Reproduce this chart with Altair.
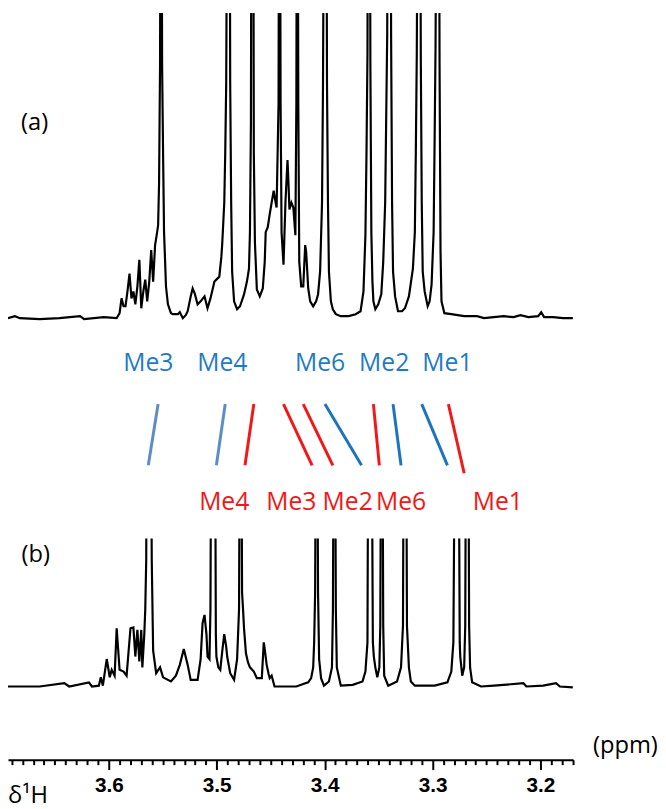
import altair as alt
import pandas as pd

# ---- spectrum (a): chemical shift (ppm) and intensity (arbitrary units) ----
A_PPM = [3.6934, 3.6870, 3.6824, 3.6641, 3.6458, 3.6266, 3.6229, 3.6046, 3.5927,
         3.5900, 3.5882, 3.5863, 3.5845, 3.5827, 3.5808, 3.5790, 3.5772, 3.5754, 3.5735,
         3.5717, 3.5699, 3.5680, 3.5662, 3.5644, 3.5625, 3.5607, 3.5589, 3.5571, 3.5552,
         3.5543, 3.5534, 3.5525, 3.5516, 3.5506, 3.5497, 3.5488, 3.5479, 3.5470, 3.5452,
         3.5424, 3.5406, 3.5360, 3.5342, 3.5314, 3.5287, 3.5269, 3.5241, 3.5223, 3.5204,
         3.5177, 3.5149, 3.5113, 3.5085, 3.5058, 3.5021, 3.4994, 3.4976, 3.4957, 3.4948,
         3.4930, 3.4921, 3.4912, 3.4893, 3.4884, 3.4875, 3.4866, 3.4857, 3.4839, 3.4811,
         3.4784, 3.4747, 3.4720, 3.4701, 3.4692, 3.4683, 3.4674, 3.4665, 3.4656, 3.4646,
         3.4628, 3.4601, 3.4573, 3.4555, 3.4546, 3.4527, 3.4509, 3.4491, 3.4472, 3.4454,
         3.4445, 3.4427, 3.4418, 3.4408, 3.4399, 3.4381, 3.4363, 3.4344, 3.4335, 3.4326,
         3.4308, 3.4290, 3.4271, 3.4262, 3.4253, 3.4244, 3.4235, 3.4217, 3.4198, 3.4180,
         3.4171, 3.4152, 3.4134, 3.4106, 3.4079, 3.4061, 3.4042, 3.4024, 3.4015, 3.3997,
         3.3988, 3.3978, 3.3969, 3.3960, 3.3942, 3.3924, 3.3896, 3.3850, 3.3777, 3.3713,
         3.3667, 3.3640, 3.3622, 3.3612, 3.3603, 3.3594, 3.3585, 3.3576, 3.3567, 3.3557,
         3.3548, 3.3530, 3.3503, 3.3475, 3.3457, 3.3439, 3.3430, 3.3420, 3.3411, 3.3393,
         3.3384, 3.3375, 3.3366, 3.3347, 3.3320, 3.3283, 3.3256, 3.3219, 3.3182, 3.3164,
         3.3155, 3.3146, 3.3127, 3.3118, 3.3109, 3.3100, 3.3091, 3.3073, 3.3045, 3.3027,
         3.3009, 3.2990, 3.2981, 3.2972, 3.2954, 3.2945, 3.2935, 3.2926, 3.2917, 3.2890,
         3.2826, 3.2707, 3.2588, 3.2523, 3.2432, 3.2340, 3.2249, 3.2185, 3.2112, 3.2021,
         3.1993, 3.1966, 3.1883, 3.1791, 3.1700]
A_INT = [0, 2, 0, -1, 0, 2, -1, 1, 0,
         5, 20, 12, 12, 27, 45, 20, 27, 14, 32,
         59, 10, 27, 39, 17, 37, 69, 37, 74, 87,
         94, 137, 257, 700, 257, 167, 87, 60, 32, 14,
         5, 4, 4, 6, 0, 3, 7, 22, 30, 25,
         14, 17, 22, 10, 20, 37, 40, 42, 62, 77,
         117, 167, 237, 700, 700, 237, 117, 47, 17, 9,
         12, 24, 37, 50, 87, 197, 700, 700, 167, 77,
         29, 22, 30, 57, 87, 92, 105, 117, 129, 117,
         112, 217, 700, 217, 87, 54, 117, 160, 137, 110,
         117, 112, 84, 217, 700, 217, 57, 32, 32, 74,
         67, 30, 17, 12, 17, 24, 47, 117, 237, 700,
         700, 237, 117, 47, 17, 9, 4, 2, 2, 4,
         7, 27, 84, 167, 267, 700, 700, 257, 87, 37,
         17, 9, 14, 24, 57, 117, 197, 287, 700, 700,
         287, 117, 47, 22, 7, 7, 10, 22, 50, 87,
         167, 267, 700, 700, 267, 117, 47, 27, 12, 17,
         34, 87, 177, 277, 700, 700, 257, 67, 17, 5,
         4, 2, 2, 0, 1, 2, 1, 3, 1, 2,
         6, 1, 1, 0, 0]

# ---- spectrum (b) ----
B_PPM = [3.6934, 3.6641, 3.6412, 3.6367, 3.6184, 3.6156, 3.6092, 3.6074, 3.6055, 3.6019,
         3.5991, 3.5973, 3.5946, 3.5927, 3.5900, 3.5863, 3.5835, 3.5799, 3.5772, 3.5754,
         3.5735, 3.5717, 3.5699, 3.5689, 3.5671, 3.5662, 3.5653, 3.5648, 3.5612, 3.5602,
         3.5589, 3.5561, 3.5525, 3.5497, 3.5424, 3.5378, 3.5342, 3.5305, 3.5269, 3.5241,
         3.5177, 3.5149, 3.5131, 3.5113, 3.5095, 3.5085, 3.5067, 3.5058, 3.5049, 3.5017,
         3.5008, 3.5003, 3.4985, 3.4967, 3.4948, 3.4930, 3.4912, 3.4903, 3.4875, 3.4839,
         3.4811, 3.4793, 3.4784, 3.4774, 3.4765, 3.4756, 3.4747, 3.4729, 3.4710, 3.4692,
         3.4656, 3.4628, 3.4582, 3.4564, 3.4555, 3.4537, 3.4519, 3.4509, 3.4491, 3.4464,
         3.4381, 3.4262, 3.4198, 3.4152, 3.4125, 3.4106, 3.4097, 3.4088, 3.4079, 3.4070,
         3.4061, 3.4051, 3.4033, 3.4006, 3.3960, 3.3932, 3.3923, 3.3914, 3.3905, 3.3896,
         3.3887, 3.3850, 3.3740, 3.3649, 3.3622, 3.3603, 3.3594, 3.3567, 3.3553, 3.3544,
         3.3530, 3.3512, 3.3493, 3.3484, 3.3475, 3.3466, 3.3457, 3.3448, 3.3411, 3.3329,
         3.3292, 3.3274, 3.3265, 3.3246, 3.3237, 3.3219, 3.3201, 3.3164, 3.2981, 3.2862,
         3.2826, 3.2807, 3.2789, 3.2761, 3.2748, 3.2743, 3.2725, 3.2707, 3.2697, 3.2688,
         3.2670, 3.2661, 3.2652, 3.2633, 3.2551, 3.2432, 3.2158, 3.2130, 3.1975, 3.1856,
         3.1820, 3.1700]
B_INT = [0, 0, 4, 0, 5, 0, 1, 11, 1, 33,
         11, 20, 13, 70, 20, 18, 13, 70, 71, 36,
         68, 30, 68, 23, 63, 93, 153, 400, 400, 153,
         43, 16, 23, 11, 6, 13, 26, 45, 26, 8,
         8, 33, 76, 86, 63, 36, 33, 93, 400, 400,
         63, 36, 23, 20, 43, 63, 48, 36, 16, 8,
         33, 93, 400, 400, 113, 93, 70, 40, 29, 23,
         18, 10, 10, 53, 45, 26, 15, 10, 13, 0,
         0, 0, 3, 5, 10, 23, 53, 113, 400, 400,
         113, 33, 10, 1, 6, 23, 93, 400, 400, 93,
         23, 1, 2, 6, 18, 53, 400, 400, 53, 36,
         23, 11, 23, 73, 400, 400, 73, 13, 1, 6,
         23, 73, 400, 400, 73, 23, 6, 1, 1, 5,
         18, 53, 400, 400, 53, 36, 13, 23, 73, 400,
         400, 73, 23, 5, 0, 1, 4, 0, 1, 4,
         0, -1]

# ---- assignments ----
BLUE_NAMES = ["Me3", "Me4", "Me6", "Me2", "Me1"]
BLUE_LABEL_PPM = [3.5634, 3.4948, 3.4042, 3.3448, 3.2862]
BLUE_TOP_PPM = [3.5543, 3.4921, 3.3997, 3.3366, 3.3100]
BLUE_BOT_PPM = [3.5634, 3.5003, 3.3658, 3.3292, 3.2862]

RED_NAMES = ["Me4", "Me3", "Me2", "Me6", "Me1"]
RED_LABEL_PPM = [3.4930, 3.4308, 3.3786, 3.3292, 3.2395]
RED_TOP_PPM = [3.4656, 3.4381, 3.4198, 3.3548, 3.2853]
RED_BOT_PPM = [3.4738, 3.4116, 3.3924, 3.3493, 3.2707]

PANEL_LABELS = ["(a)", "(b)"]
MAJOR_TICKS = [3.6, 3.5, 3.4, 3.3, 3.2]
MINOR_TICKS = [round(3.17 + 0.01 * i, 2) for i in range(53)]
X_DOMAIN = [3.6934, 3.1698]

W, HA, HB = 572, 532, 224
BLUE_TXT = "#1f7bc4"
BLUE_LINE = "#1c74bd"
BLUE_LIGHT = "#5f8cc6"
RED = "#f01818"
FONT = "Open Sans"

xs = alt.Scale(domain=X_DOMAIN, nice=False, zero=False)
noax = None

# ---------------- panel A ----------------
dfA = pd.DataFrame({"ppm": A_PPM, "I": A_INT})
specA = alt.Chart(dfA).mark_line(color="black", strokeWidth=2.2, clip=True).encode(
    x=alt.X("ppm:Q", scale=xs, axis=noax),
    y=alt.Y("I:Q", scale=alt.Scale(domain=[-223, 309], nice=False, zero=False), axis=noax),
)

dfBlue = pd.DataFrame({"name": BLUE_NAMES, "lab": BLUE_LABEL_PPM,
                       "top": BLUE_TOP_PPM, "bot": BLUE_BOT_PPM})
dfRed = pd.DataFrame({"name": RED_NAMES, "lab": RED_LABEL_PPM,
                      "top": RED_TOP_PPM, "bot": RED_BOT_PPM})

blueText = alt.Chart(dfBlue).mark_text(font=FONT, fontSize=25, color=BLUE_TXT,
                                       baseline="alphabetic", align="center").encode(
    x=alt.X("lab:Q", scale=xs, axis=noax), y=alt.value(363), text="name:N")
blueLines = alt.Chart(dfBlue).mark_rule(strokeWidth=3).encode(
    x=alt.X("top:Q", scale=xs, axis=noax), x2="bot:Q",
    y=alt.value(396), y2=alt.value(458),
    color=alt.condition("datum.name == 'Me3' || datum.name == 'Me4'",
                        alt.value(BLUE_LIGHT), alt.value(BLUE_LINE)))

redText = alt.Chart(dfRed).mark_text(font=FONT, fontSize=25, color=RED,
                                     baseline="alphabetic", align="center").encode(
    x=alt.X("lab:Q", scale=xs, axis=noax), y=alt.value(503), text="name:N")
redLines = alt.Chart(dfRed).transform_filter("datum.name != 'Me1'").mark_rule(
    strokeWidth=3, color=RED).encode(
    x=alt.X("top:Q", scale=xs, axis=noax), x2="bot:Q",
    y=alt.value(396), y2=alt.value(458))
redLineLong = alt.Chart(dfRed).transform_filter("datum.name == 'Me1'").mark_rule(
    strokeWidth=3, color=RED).encode(
    x=alt.X("top:Q", scale=xs, axis=noax), x2="bot:Q",
    y=alt.value(396), y2=alt.value(466))

dfPanel = pd.DataFrame({"t": PANEL_LABELS})
labA = alt.Chart(dfPanel).transform_filter("datum.t == '(a)'").mark_text(
    font=FONT, fontSize=24, color="black", align="center", baseline="middle").encode(
    x=alt.value(27), y=alt.value(112), text="t:N")

panelA = alt.layer(specA, blueLines, redLines, redLineLong, blueText, redText, labA).properties(
    width=W, height=HA)

# ---------------- panel B ----------------
MAJOR_TEST = "abs(datum.value * 10 - round(datum.value * 10)) < 0.001"
axisB = alt.Axis(
    values=MINOR_TICKS,
    tickSize={"condition": {"test": MAJOR_TEST, "value": 10}, "value": 5},
    labelExpr="abs(datum.value * 10 - round(datum.value * 10)) < 0.001 ? format(datum.value, '.1f') : ''",
    domainColor="black", domainWidth=2, tickColor="black", tickWidth=2,
    labelFont="Liberation Sans", labelFontWeight="bold", labelFontSize=21,
    labelColor="black", labelPadding=5, labelOverlap=False, labelFlush=False,
    grid=False, title=None,
)

dfB = pd.DataFrame({"ppm": B_PPM, "I": B_INT})
specB = alt.Chart(dfB).mark_line(color="black", strokeWidth=2.2, clip=True).encode(
    x=alt.X("ppm:Q", scale=xs, axis=axisB),
    y=alt.Y("I:Q", scale=alt.Scale(domain=[-88, 178], nice=False, zero=False), axis=noax),
)
labB = alt.Chart(dfPanel).transform_filter("datum.t == '(b)'").mark_text(
    font=FONT, fontSize=24, color="black", align="center", baseline="middle").encode(
    x=alt.value(28), y=alt.value(17), text="t:N")
ppmLab = alt.Chart(pd.DataFrame({"t": ["(ppm)"]})).mark_text(
    font=FONT, fontSize=24, color="black", align="center", baseline="middle").encode(
    x=alt.value(625), y=alt.value(210), text="t:N")
deltaLab = alt.Chart(pd.DataFrame({"t": ["δ¹H"]})).mark_text(
    font=FONT, fontSize=24, color="black", align="left", baseline="alphabetic").encode(
    x=alt.value(0), y=alt.value(268), text="t:N")

panelB = alt.layer(specB, labB, ppmLab, deltaLab).properties(width=W, height=HB)

chart = alt.vconcat(panelA, panelB, spacing=0).properties(padding=0).configure_view(
    stroke=None)

chart.save("out.html", embed_options={"renderer": "svg", "actions": False})
